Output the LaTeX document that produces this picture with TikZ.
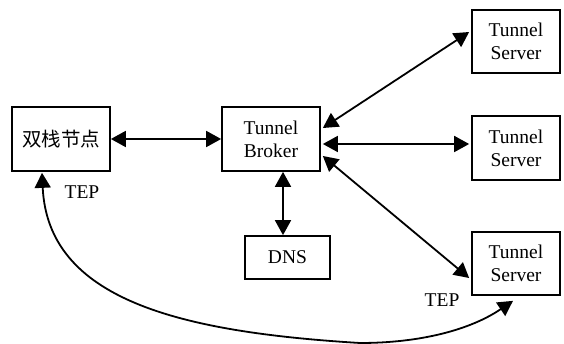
\documentclass[tikz,border=0pt]{standalone}
\usepackage{fontspec}
\setmainfont{Liberation Serif}
\newfontfamily\cjk{Noto Sans CJK SC}
\usetikzlibrary{arrows.meta}
\tikzset{
  box/.style={draw, line width=1.7pt, rectangle, inner sep=0pt, align=center,
    font=\fontsize{19.5}{23}\selectfont},
  link/.style={line width=1.8pt, {Triangle[length=15pt,width=16pt]}-{Triangle[length=15pt,width=16pt]}},
  lbl/.style={font=\fontsize{19.5}{23}\selectfont, inner sep=0pt}
}
\begin{document}
\begin{tikzpicture}[x=1pt,y=-1pt]
\useasboundingbox (0,0) rectangle (564,344);

% boxes
\node[box, minimum width=98pt, minimum height=64pt] (dual) at (61,139) {\cjk 双栈节点};
\node[box, minimum width=98pt, minimum height=64pt] (broker) at (271,139) {Tunnel\\Broker};
\node[box, minimum width=85pt, minimum height=43pt] (dns) at (287.5,257.5) {DNS};
\node[box, minimum width=88pt, minimum height=63pt] (s1) at (516,41.5) {Tunnel\\Server};
\node[box, minimum width=88pt, minimum height=64pt] (s2) at (516,148) {Tunnel\\Server};
\node[box, minimum width=88pt, minimum height=63pt] (s3) at (516,263.5) {Tunnel\\Server};

% labels
\node[lbl] (tep1) at (82,192) {TEP};
\node[lbl] (tep2) at (442,300) {TEP};

% connectors
\draw[link] (dual.east) -- (broker.west);
\draw[link] ([xshift=12pt]broker.south) -- ([xshift=-4.5pt]dns.north);
\draw[link] ([xshift=2pt,yshift=11pt]broker.east) -- ([xshift=-2pt,yshift=9.5pt]s1.west);
\draw[link] ([xshift=2pt,yshift=-5pt]broker.east) -- ([xshift=-2pt,yshift=4pt]s2.west);
\draw[link] ([xshift=2pt,yshift=-17pt]broker.east) -- ([xshift=-2pt,yshift=-14.5pt]s3.west);
\draw[link] ([xshift=-19pt,yshift=-1pt]dual.south)
  .. controls (48,300) and (180,332) .. (360,343)
  .. controls (420,343) and (470,330) .. ([xshift=-3pt,yshift=-5pt]s3.south);
\end{tikzpicture}
\end{document}
